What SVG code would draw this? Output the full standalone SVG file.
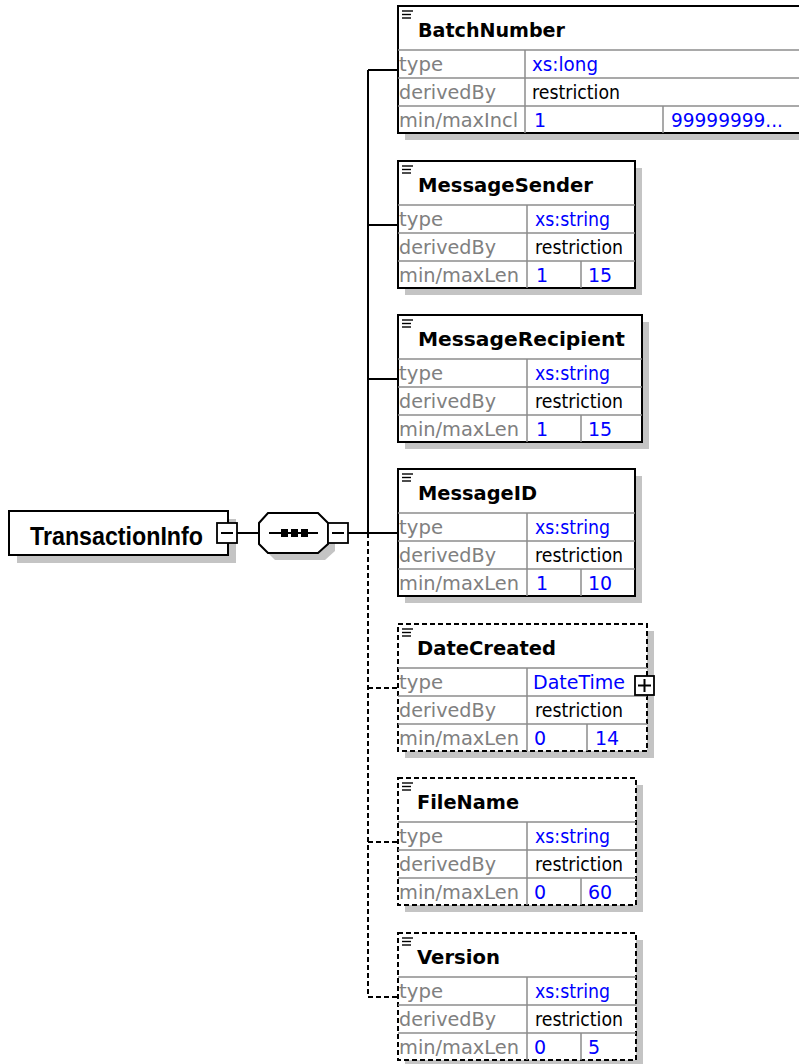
<svg xmlns="http://www.w3.org/2000/svg" width="799" height="1064" viewBox="0 0 799 1064">
<style>
.bg{fill:#fff}
.shadow{fill:#c4c4c4;stroke:none}
.box{fill:#fff;stroke:#000;stroke-width:2}
.dbox{fill:#fff;stroke:#000;stroke-width:2;stroke-dasharray:5 3}
.sep{stroke:#8c8c8c;stroke-width:1.5}
.ico{stroke:#000;stroke-width:1.4}
.name{font-family:"DejaVu Sans",sans-serif;font-weight:bold;font-size:19px;fill:#000}
.root{font-family:"Liberation Sans",Arial,sans-serif;font-weight:bold;font-size:25px;fill:#000}
.lbl{font-family:"DejaVu Sans",sans-serif;font-size:19px;fill:#808080}
.val{font-family:"DejaVu Sans",sans-serif;font-size:19px;fill:#0000ff}
.txt{font-family:"DejaVu Sans",sans-serif;font-size:19px;fill:#000}
.conn{stroke:#000;stroke-width:2;fill:none}
.dconn{stroke:#000;stroke-width:2;fill:none;stroke-dasharray:5 3}
.pm{fill:#fff;stroke:#000;stroke-width:1.8}
</style>
<rect class="bg" x="0" y="0" width="799" height="1064"/>

<g id="connectors">
  <line class="conn" x1="237" y1="533" x2="259" y2="533"/>
  <line class="conn" x1="348" y1="533" x2="398" y2="533"/>
  <line class="conn" x1="368" y1="70" x2="368" y2="533"/>
  <line class="dconn" x1="368" y1="533" x2="368" y2="997"/>
  <line class="conn" x1="368" y1="70" x2="398" y2="70"/>
  <line class="conn" x1="368" y1="225" x2="398" y2="225"/>
  <line class="conn" x1="368" y1="379" x2="398" y2="379"/>
  <line class="dconn" x1="368" y1="688" x2="398" y2="688"/>
  <line class="dconn" x1="368" y1="842" x2="398" y2="842"/>
  <line class="dconn" x1="368" y1="997" x2="398" y2="997"/>
</g>

<g id="TransactionInfo">
  <rect class="shadow" x="17" y="519" width="219" height="44"/>
  <rect class="box" x="9" y="511" width="219" height="44"/>
  <text class="root" x="30" y="545" textLength="173" lengthAdjust="spacingAndGlyphs">TransactionInfo</text>
  <rect class="pm" x="217" y="523" width="20" height="20"/>
  <line class="conn" x1="221" y1="533" x2="233" y2="533"/>
</g>

<g id="sequence">
  <polygon class="shadow" points="275,520 325,520 335,530 335,551 325,560 275,560 266,551 266,530"/>
  <polygon class="box" points="268,513 318,513 328,523 328,544 318,553 268,553 259,544 259,523"/>
  <line class="conn" x1="269" y1="533" x2="318" y2="533"/>
  <rect x="281" y="529" width="7" height="8" fill="#000"/>
  <rect x="291" y="529" width="7" height="8" fill="#000"/>
  <rect x="301" y="529" width="7" height="8" fill="#000"/>
  <rect class="pm" x="328" y="523" width="20" height="20"/>
  <line class="conn" x1="332" y1="533" x2="344" y2="533"/>
</g>

<g id="BatchNumber" transform="translate(398,6)">
  <rect class="shadow" x="7" y="7" width="420" height="127"/>
  <rect class="box" x="0" y="0" width="420" height="127"/>
  <line class="sep" x1="0" y1="44" x2="420" y2="44"/>
  <line class="sep" x1="0" y1="72" x2="420" y2="72"/>
  <line class="sep" x1="0" y1="100" x2="420" y2="100"/>
  <line class="sep" x1="127" y1="44" x2="127" y2="127"/>
  <line class="sep" x1="265" y1="100" x2="265" y2="127"/>
  <line class="ico" x1="4" y1="5" x2="15" y2="5"/><line class="ico" x1="4" y1="8.5" x2="13" y2="8.5"/><line class="ico" x1="4" y1="12" x2="13" y2="12"/>
  <text class="name" x="20" y="31" textLength="147" lengthAdjust="spacingAndGlyphs">BatchNumber</text>
  <text class="lbl" x="1" y="65" textLength="44" lengthAdjust="spacingAndGlyphs">type</text>
  <text class="lbl" x="1" y="93" textLength="97" lengthAdjust="spacingAndGlyphs">derivedBy</text>
  <text class="lbl" x="1" y="121" textLength="119" lengthAdjust="spacingAndGlyphs">min/maxIncl</text>
  <text class="val" x="134" y="65" textLength="66" lengthAdjust="spacingAndGlyphs">xs:long</text>
  <text class="txt" x="134" y="93" textLength="88" lengthAdjust="spacingAndGlyphs">restriction</text>
  <text class="val" x="136" y="121">1</text>
  <text class="val" x="273" y="121" textLength="112" lengthAdjust="spacingAndGlyphs">99999999...</text>
</g>

<g id="MessageSender" transform="translate(398,161)">
  <rect class="shadow" x="7" y="7" width="237" height="127"/>
  <rect class="box" x="0" y="0" width="237" height="127"/>
  <line class="sep" x1="0" y1="44" x2="237" y2="44"/>
  <line class="sep" x1="0" y1="72" x2="237" y2="72"/>
  <line class="sep" x1="0" y1="100" x2="237" y2="100"/>
  <line class="sep" x1="129" y1="44" x2="129" y2="127"/>
  <line class="sep" x1="183" y1="100" x2="183" y2="127"/>
  <line class="ico" x1="4" y1="5" x2="15" y2="5"/><line class="ico" x1="4" y1="8.5" x2="13" y2="8.5"/><line class="ico" x1="4" y1="12" x2="13" y2="12"/>
  <text class="name" x="20" y="31" textLength="175" lengthAdjust="spacingAndGlyphs">MessageSender</text>
  <text class="lbl" x="1" y="65" textLength="44" lengthAdjust="spacingAndGlyphs">type</text>
  <text class="lbl" x="1" y="93" textLength="97" lengthAdjust="spacingAndGlyphs">derivedBy</text>
  <text class="lbl" x="1" y="121" textLength="120" lengthAdjust="spacingAndGlyphs">min/maxLen</text>
  <text class="val" x="137" y="65" textLength="75" lengthAdjust="spacingAndGlyphs">xs:string</text>
  <text class="txt" x="137" y="93" textLength="88" lengthAdjust="spacingAndGlyphs">restriction</text>
  <text class="val" x="138" y="121">1</text>
  <text class="val" x="190" y="121">15</text>
</g>

<g id="MessageRecipient" transform="translate(398,315)">
  <rect class="shadow" x="7" y="7" width="244" height="127"/>
  <rect class="box" x="0" y="0" width="244" height="127"/>
  <line class="sep" x1="0" y1="44" x2="244" y2="44"/>
  <line class="sep" x1="0" y1="72" x2="244" y2="72"/>
  <line class="sep" x1="0" y1="100" x2="244" y2="100"/>
  <line class="sep" x1="129" y1="44" x2="129" y2="127"/>
  <line class="sep" x1="183" y1="100" x2="183" y2="127"/>
  <line class="ico" x1="4" y1="5" x2="15" y2="5"/><line class="ico" x1="4" y1="8.5" x2="13" y2="8.5"/><line class="ico" x1="4" y1="12" x2="13" y2="12"/>
  <text class="name" x="20" y="31" textLength="207" lengthAdjust="spacingAndGlyphs">MessageRecipient</text>
  <text class="lbl" x="1" y="65" textLength="44" lengthAdjust="spacingAndGlyphs">type</text>
  <text class="lbl" x="1" y="93" textLength="97" lengthAdjust="spacingAndGlyphs">derivedBy</text>
  <text class="lbl" x="1" y="121" textLength="120" lengthAdjust="spacingAndGlyphs">min/maxLen</text>
  <text class="val" x="137" y="65" textLength="75" lengthAdjust="spacingAndGlyphs">xs:string</text>
  <text class="txt" x="137" y="93" textLength="88" lengthAdjust="spacingAndGlyphs">restriction</text>
  <text class="val" x="138" y="121">1</text>
  <text class="val" x="190" y="121">15</text>
</g>

<g id="MessageID" transform="translate(398,469)">
  <rect class="shadow" x="7" y="7" width="237" height="127"/>
  <rect class="box" x="0" y="0" width="237" height="127"/>
  <line class="sep" x1="0" y1="44" x2="237" y2="44"/>
  <line class="sep" x1="0" y1="72" x2="237" y2="72"/>
  <line class="sep" x1="0" y1="100" x2="237" y2="100"/>
  <line class="sep" x1="129" y1="44" x2="129" y2="127"/>
  <line class="sep" x1="183" y1="100" x2="183" y2="127"/>
  <line class="ico" x1="4" y1="5" x2="15" y2="5"/><line class="ico" x1="4" y1="8.5" x2="13" y2="8.5"/><line class="ico" x1="4" y1="12" x2="13" y2="12"/>
  <text class="name" x="20" y="31" textLength="119" lengthAdjust="spacingAndGlyphs">MessageID</text>
  <text class="lbl" x="1" y="65" textLength="44" lengthAdjust="spacingAndGlyphs">type</text>
  <text class="lbl" x="1" y="93" textLength="97" lengthAdjust="spacingAndGlyphs">derivedBy</text>
  <text class="lbl" x="1" y="121" textLength="120" lengthAdjust="spacingAndGlyphs">min/maxLen</text>
  <text class="val" x="137" y="65" textLength="75" lengthAdjust="spacingAndGlyphs">xs:string</text>
  <text class="txt" x="137" y="93" textLength="88" lengthAdjust="spacingAndGlyphs">restriction</text>
  <text class="val" x="138" y="121">1</text>
  <text class="val" x="190" y="121">10</text>
</g>

<g id="DateCreated" transform="translate(398,624)">
  <rect class="shadow" x="7" y="7" width="249" height="127"/>
  <rect class="dbox" x="0" y="0" width="249" height="127"/>
  <line class="sep" x1="0" y1="44" x2="249" y2="44"/>
  <line class="sep" x1="0" y1="72" x2="249" y2="72"/>
  <line class="sep" x1="0" y1="100" x2="249" y2="100"/>
  <line class="sep" x1="129" y1="44" x2="129" y2="127"/>
  <line class="sep" x1="189" y1="100" x2="189" y2="127"/>
  <line class="ico" x1="4" y1="5" x2="15" y2="5"/><line class="ico" x1="4" y1="8.5" x2="13" y2="8.5"/><line class="ico" x1="4" y1="12" x2="13" y2="12"/>
  <text class="name" x="19" y="31" textLength="139" lengthAdjust="spacingAndGlyphs">DateCreated</text>
  <text class="lbl" x="1" y="65" textLength="44" lengthAdjust="spacingAndGlyphs">type</text>
  <text class="lbl" x="1" y="93" textLength="97" lengthAdjust="spacingAndGlyphs">derivedBy</text>
  <text class="lbl" x="1" y="121" textLength="120" lengthAdjust="spacingAndGlyphs">min/maxLen</text>
  <text class="val" x="135" y="65" textLength="92" lengthAdjust="spacingAndGlyphs">DateTime</text>
  <text class="txt" x="137" y="93" textLength="88" lengthAdjust="spacingAndGlyphs">restriction</text>
  <text class="val" x="136" y="121">0</text>
  <text class="val" x="197" y="121">14</text>
  <rect class="pm" x="237" y="52" width="19" height="19"/>
  <line class="conn" x1="240" y1="61.5" x2="253" y2="61.5" stroke-width="1.8"/>
  <line class="conn" x1="246.5" y1="55" x2="246.5" y2="68" stroke-width="1.8"/>
</g>

<g id="FileName" transform="translate(398,778)">
  <rect class="shadow" x="7" y="7" width="238" height="127"/>
  <rect class="dbox" x="0" y="0" width="238" height="127"/>
  <line class="sep" x1="0" y1="44" x2="238" y2="44"/>
  <line class="sep" x1="0" y1="72" x2="238" y2="72"/>
  <line class="sep" x1="0" y1="100" x2="238" y2="100"/>
  <line class="sep" x1="129" y1="44" x2="129" y2="127"/>
  <line class="sep" x1="183" y1="100" x2="183" y2="127"/>
  <line class="ico" x1="4" y1="5" x2="15" y2="5"/><line class="ico" x1="4" y1="8.5" x2="13" y2="8.5"/><line class="ico" x1="4" y1="12" x2="13" y2="12"/>
  <text class="name" x="19" y="31" textLength="102" lengthAdjust="spacingAndGlyphs">FileName</text>
  <text class="lbl" x="1" y="65" textLength="44" lengthAdjust="spacingAndGlyphs">type</text>
  <text class="lbl" x="1" y="93" textLength="97" lengthAdjust="spacingAndGlyphs">derivedBy</text>
  <text class="lbl" x="1" y="121" textLength="120" lengthAdjust="spacingAndGlyphs">min/maxLen</text>
  <text class="val" x="137" y="65" textLength="75" lengthAdjust="spacingAndGlyphs">xs:string</text>
  <text class="txt" x="137" y="93" textLength="88" lengthAdjust="spacingAndGlyphs">restriction</text>
  <text class="val" x="136" y="121">0</text>
  <text class="val" x="190" y="121">60</text>
</g>

<g id="Version" transform="translate(398,933)">
  <rect class="shadow" x="7" y="7" width="238" height="127"/>
  <rect class="dbox" x="0" y="0" width="238" height="127"/>
  <line class="sep" x1="0" y1="44" x2="238" y2="44"/>
  <line class="sep" x1="0" y1="72" x2="238" y2="72"/>
  <line class="sep" x1="0" y1="100" x2="238" y2="100"/>
  <line class="sep" x1="129" y1="44" x2="129" y2="127"/>
  <line class="sep" x1="183" y1="100" x2="183" y2="127"/>
  <line class="ico" x1="4" y1="5" x2="15" y2="5"/><line class="ico" x1="4" y1="8.5" x2="13" y2="8.5"/><line class="ico" x1="4" y1="12" x2="13" y2="12"/>
  <text class="name" x="19" y="31" textLength="83" lengthAdjust="spacingAndGlyphs">Version</text>
  <text class="lbl" x="1" y="65" textLength="44" lengthAdjust="spacingAndGlyphs">type</text>
  <text class="lbl" x="1" y="93" textLength="97" lengthAdjust="spacingAndGlyphs">derivedBy</text>
  <text class="lbl" x="1" y="121" textLength="120" lengthAdjust="spacingAndGlyphs">min/maxLen</text>
  <text class="val" x="137" y="65" textLength="75" lengthAdjust="spacingAndGlyphs">xs:string</text>
  <text class="txt" x="137" y="93" textLength="88" lengthAdjust="spacingAndGlyphs">restriction</text>
  <text class="val" x="136" y="121">0</text>
  <text class="val" x="190" y="121">5</text>
</g>
</svg>
